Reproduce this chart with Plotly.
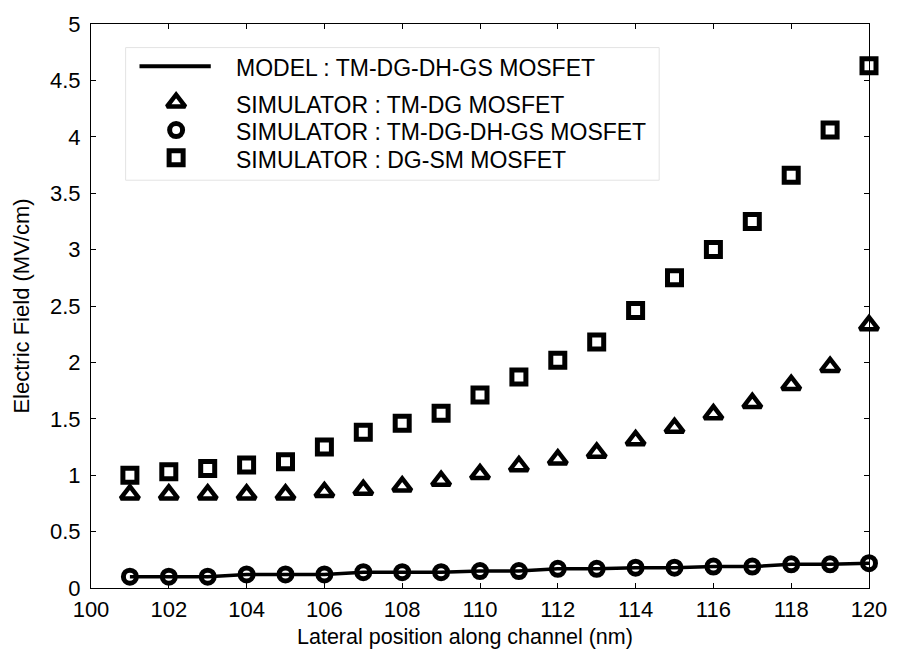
import plotly.graph_objects as go

# Lateral position along the channel (nm)
position_nm = [101, 102, 103, 104, 105, 106, 107, 108, 109, 110,
               111, 112, 113, 114, 115, 116, 117, 118, 119, 120]

# Electric field (MV/cm)
model_tm_dg_dh_gs = [0.10, 0.10, 0.10, 0.12, 0.12, 0.12, 0.14, 0.14, 0.14, 0.15,
                     0.15, 0.17, 0.17, 0.18, 0.18, 0.19, 0.19, 0.21, 0.21, 0.22]
sim_tm_dg = [0.83, 0.83, 0.83, 0.83, 0.83, 0.85, 0.87, 0.90, 0.95, 1.01,
             1.08, 1.14, 1.20, 1.31, 1.42, 1.54, 1.64, 1.80, 1.96, 2.33]
sim_tm_dg_dh_gs = [0.10, 0.10, 0.10, 0.12, 0.12, 0.12, 0.14, 0.14, 0.14, 0.15,
                   0.15, 0.17, 0.17, 0.18, 0.18, 0.19, 0.19, 0.21, 0.21, 0.22]
sim_dg_sm = [1.00, 1.03, 1.06, 1.09, 1.12, 1.25, 1.38, 1.46, 1.55, 1.71,
             1.87, 2.02, 2.18, 2.46, 2.75, 3.00, 3.25, 3.66, 4.06, 4.63]

legend_labels = ["MODEL : TM-DG-DH-GS MOSFET",
                 "SIMULATOR : TM-DG MOSFET",
                 "SIMULATOR : TM-DG-DH-GS MOSFET",
                 "SIMULATOR : DG-SM MOSFET"]

x_title = "Lateral position along channel (nm)"
y_title = "Electric Field (MV/cm)"

x_ticks = list(range(100, 121, 2))
y_ticks = [0, 0.5, 1, 1.5, 2, 2.5, 3, 3.5, 4, 4.5, 5]

FONT = "Arial, Liberation Sans, sans-serif"
W, H = 899, 656
ML, MR, MT, MB = 91, 22, 14, 68
pw, ph = W - ML - MR, H - MT - MB


def px_to_paper(px, py):
    """Convert page pixel coordinates to paper coordinates of the plot area."""
    return (px - ML) / pw, (MT + ph - py) / ph


fig = go.Figure()

fig.add_trace(go.Scatter(x=position_nm, y=model_tm_dg_dh_gs, mode="lines",
                         line=dict(color="black", width=3.5), cliponaxis=False))
fig.add_trace(go.Scatter(x=position_nm, y=sim_tm_dg, mode="markers", cliponaxis=False,
                         marker=dict(symbol="triangle-up-open", size=16, color="black",
                                     line=dict(color="black", width=4.5))))
fig.add_trace(go.Scatter(x=position_nm, y=sim_tm_dg_dh_gs, mode="markers", cliponaxis=False,
                         marker=dict(symbol="circle-open", size=13, color="black",
                                     line=dict(color="black", width=5))))
fig.add_trace(go.Scatter(x=position_nm, y=sim_dg_sm, mode="markers", cliponaxis=False,
                         marker=dict(symbol="square-open", size=14, color="black",
                                     line=dict(color="black", width=5))))

# Legend box drawn on an overlay axis measured in page pixels
box = dict(x0=126, x1=665, y0=38, y1=173)
row_y = [57, 94, 122, 150]
sym_x = 177
text_x = 235

fig.add_shape(type="rect", xref="x2", yref="y2", x0=box["x0"], x1=box["x1"],
              y0=box["y0"], y1=box["y1"], line=dict(color="#e3e3e3", width=1),
              fillcolor="white", layer="below")
fig.add_shape(type="line", xref="x2", yref="y2", x0=140, x1=212, y0=row_y[0], y1=row_y[0],
              line=dict(color="black", width=4), layer="above")
legend_symbols = [("triangle-up-open", 16, 4.5), ("circle-open", 13, 5), ("square-open", 14, 5)]
for (sym, sz, lw), yy in zip(legend_symbols, row_y[1:]):
    fig.add_trace(go.Scatter(x=[sym_x], y=[yy], xaxis="x2", yaxis="y2", mode="markers",
                             marker=dict(symbol=sym, size=sz, color="black",
                                         line=dict(color="black", width=lw)),
                             cliponaxis=False))
for label, yy in zip(legend_labels, row_y):
    fig.add_annotation(x=text_x, y=yy + 2, xref="x2", yref="y2", text=label, showarrow=False,
                       xanchor="left", yanchor="middle",
                       font=dict(family=FONT, size=23, color="black"))

# x axis title, slightly left of the plot centre
tx, ty = px_to_paper(469, 638)
fig.add_annotation(x=tx, y=ty, xref="paper", yref="paper", text=x_title, showarrow=False,
                   xanchor="center", yanchor="middle",
                   font=dict(family=FONT, size=21.5, color="black"))

axis_common = dict(showgrid=False, zeroline=False, showline=True, linecolor="black",
                   linewidth=1, mirror="ticks", ticks="inside", ticklen=5,
                   tickcolor="black", tickfont=dict(family=FONT, size=22, color="black"))

fig.update_layout(
    width=W, height=H,
    margin=dict(l=ML, r=MR, t=MT, b=MB),
    paper_bgcolor="white", plot_bgcolor="white",
    showlegend=False,
    xaxis=dict(range=[100, 120], tickvals=x_ticks, ticktext=[str(v) for v in x_ticks],
               ticklabelstandoff=2, **axis_common),
    yaxis=dict(range=[0, 5], tickvals=y_ticks, ticktext=[f"{v:g}" for v in y_ticks],
               ticklabelstandoff=5,
               title=dict(text=y_title, standoff=14,
                          font=dict(family=FONT, size=22, color="black")),
               **axis_common),
    xaxis2=dict(range=[ML, ML + pw], overlaying="x", visible=False, fixedrange=True),
    yaxis2=dict(range=[MT + ph, MT], overlaying="y", visible=False, fixedrange=True),
)

fig.write_html("out.html")
